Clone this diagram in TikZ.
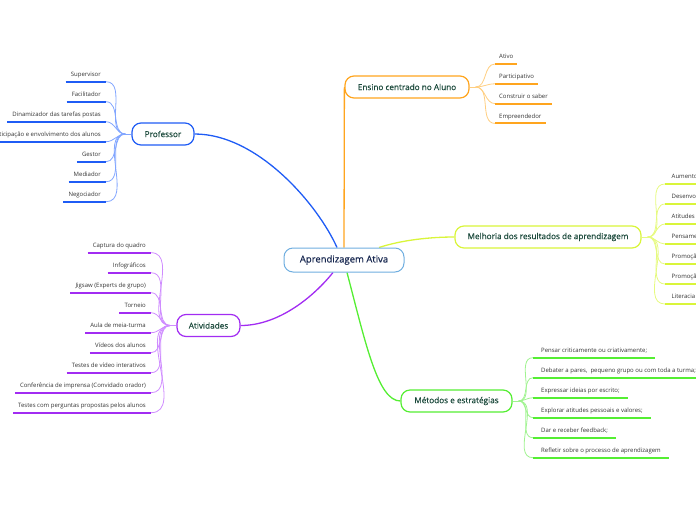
\documentclass[tikz,border=0pt]{standalone}
\usepackage{fontspec}
\setmainfont{Open Sans}
\newfontfamily\topicfont[FakeBold=0.35]{Open Sans}
\usetikzlibrary{backgrounds,calc}
\definecolor{cblue}{HTML}{1F5CF5}
\definecolor{lblue}{HTML}{82A6FF}
\definecolor{cpur}{HTML}{A22CF2}
\definecolor{lpur}{HTML}{CF8CFF}
\definecolor{corg}{HTML}{FFA51E}
\definecolor{lorg}{HTML}{FFCE80}
\definecolor{cyel}{HTML}{D9F53A}
\definecolor{lyel}{HTML}{E6FA80}
\definecolor{cgrn}{HTML}{55EE33}
\definecolor{lgrn}{HTML}{A0F390}
\definecolor{ccen}{HTML}{6FAEE0}
\definecolor{tmain}{HTML}{1C4A3C}
\definecolor{tcen}{HTML}{16264F}
\definecolor{tleaf}{HTML}{333333}
\begin{document}
\begin{tikzpicture}[x=1pt,y=-1pt,
 topic/.style={draw, rounded corners=9pt, line width=1.2pt, fill=white, minimum height=22pt, inner sep=0pt, font=\topicfont\fontsize{8.2}{10}\selectfont, text=tmain},
 leaf/.style={inner xsep=5pt, inner ysep=3.6pt, text height=4.6pt, text depth=1.4pt, font=\fontsize{6}{7}\selectfont, text=tleaf},
 ul/.style={line width=2pt},
 br/.style={line width=0.8pt},
 mainedge/.style={line width=1.3pt},
]
\useasboundingbox (0,0) rectangle (696,520);

% main nodes
\node[topic, draw=ccen, line width=1pt, minimum width=120pt, minimum height=24pt, text=tcen, font=\topicfont\fontsize{9.5}{11}\selectfont] (c) at (344,260) {Aprendizagem Ativa};
\node[topic, draw=cblue, minimum width=62pt] (prof) at (163,134) {Professor};
\node[topic, draw=cpur, minimum width=63pt] (ativ) at (208.5,325.5) {Atividades};
\node[topic, draw=corg, minimum width=124pt] (ens) at (407,87) {Ensino centrado no Aluno};
\node[topic, draw=cyel, minimum width=186pt] (mel) at (548,237) {Melhoria dos resultados de aprendizagem};
\node[topic, draw=cgrn, minimum width=111pt] (met) at (456.5,401) {Métodos e estratégias};

% Professor leaves
\foreach \i/\t [count=\k from 0] in {p1/{Supervisor}, p2/{Facilitador}, p3/{Dinamizador das tarefas postas}, p4/{Participação e envolvimento dos alunos}, p5/{Gestor}, p6/{Mediador}, p7/{Negociador}}{
  \node[leaf, anchor=south east] (\i) at (106,81.7+20*\k) {\t};
  \draw[ul, cblue] (\i.south west) -- (\i.south east);
}
% Atividades leaves
\foreach \i/\t [count=\k from 0] in {a1/{Captura do quadro}, a2/{Infográficos}, a3/{Jigsaw (Experts de grupo)}, a4/{Torneio}, a5/{Aula de meia-turma}, a6/{Vídeos dos alunos}, a7/{Testes de vídeo interativos}, a8/{Conferência de imprensa (Convidado orador)}, a9/{Testes com perguntas propostas pelos alunos}}{
  \node[leaf, anchor=south east] (\i) at (151,252.7+20*\k) {\t};
  \draw[ul, cpur] (\i.south west) -- (\i.south east);
}
% Ensino leaves
\foreach \i/\t [count=\k from 0] in {e1/{Ativo}, e2/{Participativo}, e3/{Construir o saber}, e4/{Empreendedor}}{
  \node[leaf, anchor=south west, inner xsep=4pt] (\i) at (495,64+19.8*\k) {\t};
  \draw[ul, corg] (\i.south west) -- (\i.south east);
}
% Melhoria leaves
\foreach \i/\t [count=\k from 0] in {m1/{Aumento}, m2/{Desenvo}, m3/{Atitudes}, m4/{Pensame}, m5/{Promoçã}, m6/{Promoçã}, m7/{Literacia}}{
  \node[leaf, anchor=south west, inner xsep=6.5pt] (\i) at (665,184+20*\k) {\t};
  \draw[ul, cyel] (\i.south west) -- ++(40,0);
}
% Metodos leaves
\foreach \i/\t [count=\k from 0] in {s1/{Pensar criticamente ou criativamente;}, s2/{Debater a pares,\ \ pequeno grupo ou com toda a turma;}, s3/{Expressar ideias por escrito;}, s4/{Explorar atitudes pessoais e valores;}, s5/{Dar e receber feedback;}, s6/{Refletir sobre o processo de aprendizagem}}{
  \node[leaf, anchor=south west, inner xsep=8pt] (\i) at (533,357.7+20*\k) {\t};
  \draw[ul, cgrn] (\i.south west) -- (\i.south east);
}

\begin{scope}[on background layer]
  % main connectors
  \draw[mainedge, cblue] ([xshift=-7pt]c.north) .. controls (318,205) and (258,134) .. (prof.east);
  \draw[mainedge, corg] (c.north) -- (ens.west);
  \draw[mainedge, cyel] ([xshift=35pt]c.north) .. controls (402,240) and (430,237) .. (mel.west);
  \draw[mainedge, cpur] ([xshift=-11pt]c.south) .. controls (315,295) and (280,325.5) .. (ativ.east);
  \draw[mainedge, cgrn] ([xshift=3pt]c.south) .. controls (366,345) and (378,401) .. (met.west);

  % junctions
  \coordinate (pj) at ([xshift=-6pt]prof.west);
  \coordinate (aj) at ([xshift=-6pt]ativ.west);
  \coordinate (ej) at ([xshift=6pt]ens.east);
  \coordinate (mj) at ([xshift=6pt]mel.east);
  \coordinate (sj) at ([xshift=6pt]met.east);
  \draw[br, lblue, line width=1pt] (prof.west) -- (pj);
  \draw[br, lpur, line width=1pt] (ativ.west) -- (aj);
  \draw[br, lorg, line width=1pt] (ens.east) -- (ej);
  \draw[br, lyel, line width=1pt] (mel.east) -- (mj);
  \draw[br, lgrn, line width=1pt] (met.east) -- (sj);

  \foreach \i in {p1,p2,p3,p4,p5,p6,p7}
    \draw[br, lblue] (pj) to[out=180,in=0] (\i.south east);
  \foreach \i in {a1,a2,a3,a4,a5,a6,a7,a8,a9}
    \draw[br, lpur] (aj) to[out=180,in=0] (\i.south east);
  \foreach \i in {e1,e2,e3,e4}
    \draw[br, lorg] (ej) to[out=0,in=180] (\i.south west);
  \foreach \i in {m1,m2,m3,m4,m5,m6,m7}
    \draw[br, lyel] (mj) to[out=0,in=180] (\i.south west);
  \foreach \i in {s1,s2,s3,s4,s5,s6}
    \draw[br, lgrn] (sj) to[out=0,in=180] (\i.south west);
\end{scope}
\end{tikzpicture}
\end{document}
